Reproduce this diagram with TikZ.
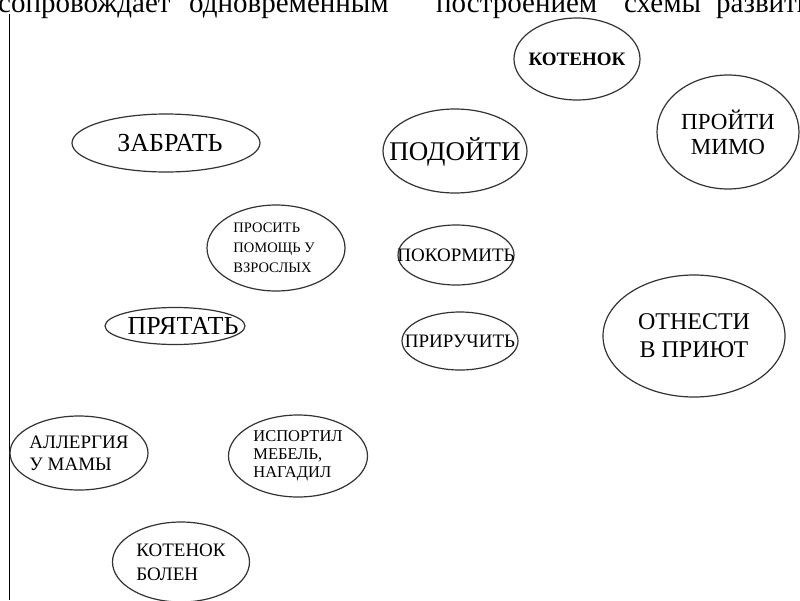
\documentclass[tikz,border=0pt]{standalone}
\usepackage{fontspec}
\setmainfont{Liberation Serif}
\usetikzlibrary{shapes.geometric}
\begin{document}
\begin{tikzpicture}[x=1pt,y=-1pt,
  oval/.style={draw=black!80,line width=1.2pt,ellipse,inner sep=0pt},
  lbl/.style={inner sep=0pt,align=center},
  topword/.style={inner sep=0pt,anchor=base west,font=\fontsize{29}{29}\selectfont}]
\useasboundingbox (0,0) rectangle (800,600);
\clip (0,0) rectangle (800,600);
\fill[white] (0,0) rectangle (800,600);
% top text line
\node[topword] (w1) at (-2,12) {сопровождает};
\node[topword] (w2) at (189,12) {одновременным};
\node[topword] (w3) at (436,12) {построением};
\node[topword] (w4) at (624,12) {схемы};
\node[topword] (w5) at (716,12) {развития};
% vertical rule
\coordinate (ltop) at (9,14);
\coordinate (lbot) at (9,600);
\draw[line width=1pt] (ltop) -- (lbot);
% ellipses
\node[oval,minimum width=126pt,minimum height=82pt] (kot) at (577,59) {};
\node[lbl,font=\bfseries\fontsize{19}{21}\selectfont] (kot-t) at (kot) {КОТЕНОК};
\node[oval,minimum width=142pt,minimum height=114pt] (mimo) at (728,132) {};
\node[lbl,font=\fontsize{23}{25}\selectfont] (mimo-t) at (mimo) {ПРОЙТИ\\МИМО};
\node[oval,minimum width=144pt,minimum height=84pt] (pod) at (455,151) {};
\node[lbl,font=\fontsize{27}{29}\selectfont] (pod-t) at (455,152) {ПОДОЙТИ};
\node[oval,minimum width=116pt,minimum height=60pt] (pokorm) at (456,255) {};
\node[lbl,font=\fontsize{19}{21}\selectfont] (pokorm-t) at (pokorm) {ПОКОРМИТЬ};
\node[oval,minimum width=116pt,minimum height=58pt] (priruch) at (460,341) {};
\node[lbl,font=\fontsize{19}{21}\selectfont] (priruch-t) at (priruch) {ПРИРУЧИТЬ};
\node[oval,minimum width=182pt,minimum height=122pt] (priut) at (694,336) {};
\node[lbl,font=\fontsize{24}{28}\selectfont] (priut-t) at (priut) {ОТНЕСТИ\\В ПРИЮТ};
\node[oval,minimum width=188pt,minimum height=58pt] (zabr) at (166,143) {};
\node[lbl,font=\fontsize{26}{28}\selectfont] (zabr-t) at (170,143) {ЗАБРАТЬ};
\node[oval,minimum width=138pt,minimum height=86pt] (prosit) at (276,248) {};
\node[lbl,align=left,font=\fontsize{14.5}{20}\selectfont] (prosit-t) at (274,248) {ПРОСИТЬ\\ПОМОЩЬ У\\ВЗРОСЛЫХ};
\node[oval,minimum width=140pt,minimum height=37pt] (pryat) at (175,326) {};
\node[lbl,font=\fontsize{26}{28}\selectfont] (pryat-t) at (183,326) {ПРЯТАТЬ};
\node[oval,minimum width=138pt,minimum height=74pt] (allerg) at (79,453) {};
\node[lbl,align=left,font=\fontsize{19}{22}\selectfont] (allerg-t) at (allerg) {АЛЛЕРГИЯ\\У МАМЫ};
\node[oval,minimum width=139pt,minimum height=82pt] (isport) at (298,456) {};
\node[lbl,align=left,font=\fontsize{16.5}{18}\selectfont] (isport-t) at (isport) {ИСПОРТИЛ\\МЕБЕЛЬ,\\НАГАДИЛ};
\node[oval,minimum width=137pt,minimum height=80pt] (bolen) at (181,562) {};
\node[lbl,align=left,font=\fontsize{19}{24}\selectfont] (bolen-t) at (bolen) {КОТЕНОК\\БОЛЕН};
\end{tikzpicture}
\end{document}
